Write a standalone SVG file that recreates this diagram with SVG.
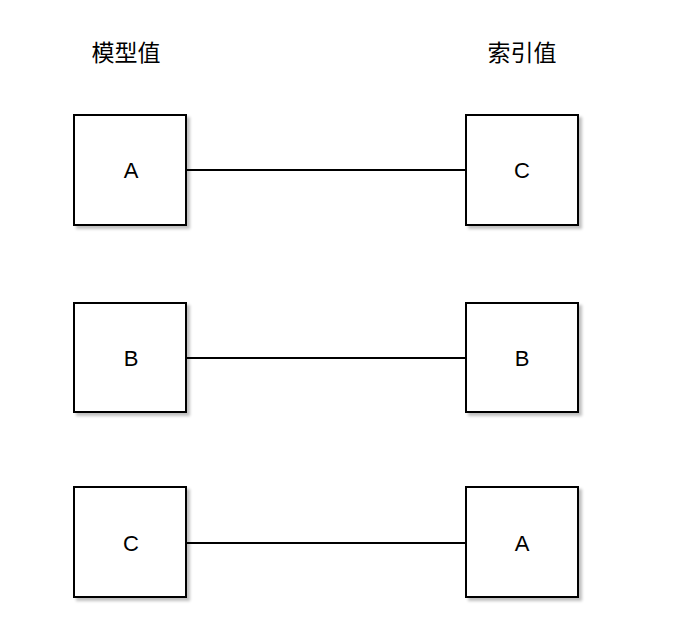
<svg xmlns="http://www.w3.org/2000/svg" width="694" height="640" viewBox="0 0 694 640">
<style>
.box{fill:#fff;stroke:#000;stroke-width:2;filter:url(#sh)}
.lbl{font-family:"Liberation Sans",Arial,sans-serif;font-size:22px;text-anchor:middle;fill:#000}
.hdr{font-family:"Noto Sans CJK SC","Liberation Sans",sans-serif;font-size:23px;text-anchor:middle;fill:#000}
.ln{stroke:#000;stroke-width:2;fill:none}
</style>
<defs>
<filter id="sh" x="-10%" y="-10%" width="130%" height="130%">
<feGaussianBlur in="SourceAlpha" stdDeviation="1.5"/>
<feOffset dx="3" dy="3" result="b"/>
<feComponentTransfer><feFuncA type="linear" slope="0.25"/></feComponentTransfer>
<feMerge><feMergeNode/><feMergeNode in="SourceGraphic"/></feMerge>
</filter>
</defs>
<rect width="694" height="640" fill="#fff"/>
<text class="hdr" x="126" y="61">模型值</text>
<text class="hdr" x="522" y="61">索引值</text>
<g id="connectors">
<line class="ln" x1="186" y1="170" x2="466" y2="170"/>
<line class="ln" x1="186" y1="358" x2="466" y2="358"/>
<line class="ln" x1="186" y1="543" x2="466" y2="543"/>
</g>
<g id="left-A"><rect class="box" x="74" y="115" width="112" height="110"/><text class="lbl" x="131" y="178">A</text></g>
<g id="left-B"><rect class="box" x="74" y="303" width="112" height="109"/><text class="lbl" x="131" y="366">B</text></g>
<g id="left-C"><rect class="box" x="74" y="487" width="112" height="110"/><text class="lbl" x="131" y="551">C</text></g>
<g id="right-C"><rect class="box" x="466" y="115" width="112" height="110"/><text class="lbl" x="522" y="178">C</text></g>
<g id="right-B"><rect class="box" x="466" y="303" width="112" height="109"/><text class="lbl" x="522" y="366">B</text></g>
<g id="right-A"><rect class="box" x="466" y="487" width="112" height="110"/><text class="lbl" x="522" y="551">A</text></g>
</svg>
